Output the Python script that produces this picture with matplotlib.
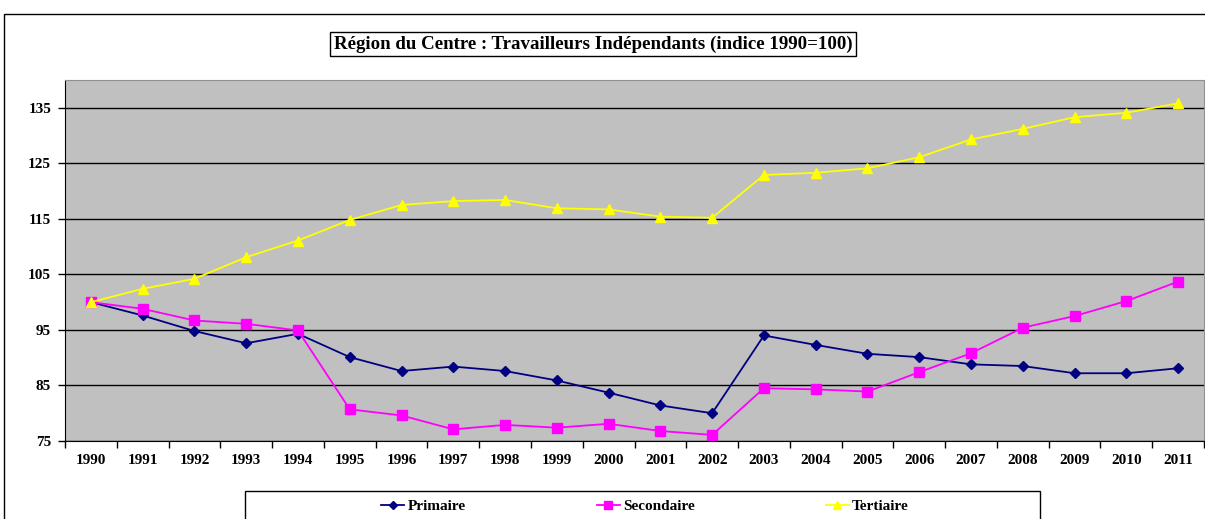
import matplotlib
matplotlib.use("Agg")
import matplotlib.pyplot as plt
from matplotlib.patches import Rectangle
from matplotlib.ticker import FixedLocator

years = [str(y) for y in range(1990, 2012)]
primaire = [100.0, 97.6, 94.8, 92.6, 94.3, 90.1, 87.6, 88.4, 87.6, 85.9, 83.7,
            81.4, 80.0, 94.0, 92.3, 90.7, 90.1, 88.8, 88.5, 87.2, 87.2, 88.1]
secondaire = [100.0, 98.8, 96.7, 96.1, 94.9, 80.7, 79.6, 77.1, 77.9, 77.4, 78.1,
              76.8, 76.1, 84.5, 84.3, 83.9, 87.4, 90.8, 95.4, 97.5, 100.2, 103.7]
tertiaire = [100.0, 102.4, 104.2, 108.1, 111.1, 114.8, 117.5, 118.2, 118.4, 116.9, 116.7,
             115.4, 115.2, 122.9, 123.3, 124.1, 126.1, 129.3, 131.2, 133.3, 134.1, 135.8]
y_ticks = [75, 85, 95, 105, 115, 125, 135]

W, H = 1205, 519
fig = plt.figure(figsize=(W / 100, H / 100), dpi=100)
serif = "Liberation Serif"

# outer chart frame (cropped on right and bottom)
fig.patches.append(Rectangle((4 / W, -0.1), 1.2, (H - 14) / H + 0.1, transform=fig.transFigure,
                             fill=False, edgecolor="black", linewidth=1.0))

ax = fig.add_axes([65 / W, (H - 441) / H, (1204 - 65) / W, (441 - 80) / H])
ax.set_facecolor("#C0C0C0")

x = list(range(len(years)))
ax.plot(x, primaire, color="#000080", marker="D", markersize=5, linewidth=1.3, label="Primaire")
ax.plot(x, secondaire, color="#FF00FF", marker="s", markersize=7, linewidth=1.3, label="Secondaire")
ax.plot(x, tertiaire, color="#FFFF00", marker="^", markersize=7, linewidth=1.3, label="Tertiaire")

ax.set_xlim(-0.5, len(years) - 0.5)
ax.set_ylim(75, 140)
ax.set_yticks(y_ticks)
ax.set_yticklabels([str(v) for v in y_ticks], fontfamily=serif, fontweight="bold", fontsize=11)
ax.set_xticks(x)
ax.set_xticklabels(years, fontfamily=serif, fontweight="bold", fontsize=11)
ax.tick_params(axis="x", which="major", length=0, pad=9)
ax.xaxis.set_minor_locator(FixedLocator([i - 0.5 for i in range(len(years) + 1)]))
ax.tick_params(axis="x", which="minor", length=5, width=1, direction="out")
ax.tick_params(axis="y", length=5, width=1, direction="out", pad=5)
ax.yaxis.grid(True, color="black", linewidth=1.0)
ax.set_axisbelow(True)
for side in ["top", "right"]:
    ax.spines[side].set_color("#909090")
ax.spines["left"].set_color("black")
ax.spines["bottom"].set_color("black")

fig.text(593 / W, 1 - 44 / H, "Région du Centre : Travailleurs Indépendants (indice 1990=100)",
         ha="center", va="center", fontfamily=serif, fontweight="bold", fontsize=13.6,
         bbox=dict(boxstyle="square,pad=0.2", facecolor="white", edgecolor="black", linewidth=1))

# legend box (cropped at bottom)
fig.patches.append(Rectangle((245 / W, -0.1), (1040 - 245) / W, (H - 491) / H + 0.1,
                             transform=fig.transFigure, fill=False, edgecolor="black", linewidth=1.0))
handles, labels = ax.get_legend_handles_labels()
leg = fig.legend(handles, labels, loc="center", bbox_to_anchor=(645 / W, 1 - 506 / H), ncol=3,
                 frameon=False, columnspacing=8.6, handlelength=1.5, handletextpad=0.2,
                 prop={"family": serif, "weight": "bold", "size": 11}, markerscale=0.8)

fig.savefig("out.png", dpi=100)
